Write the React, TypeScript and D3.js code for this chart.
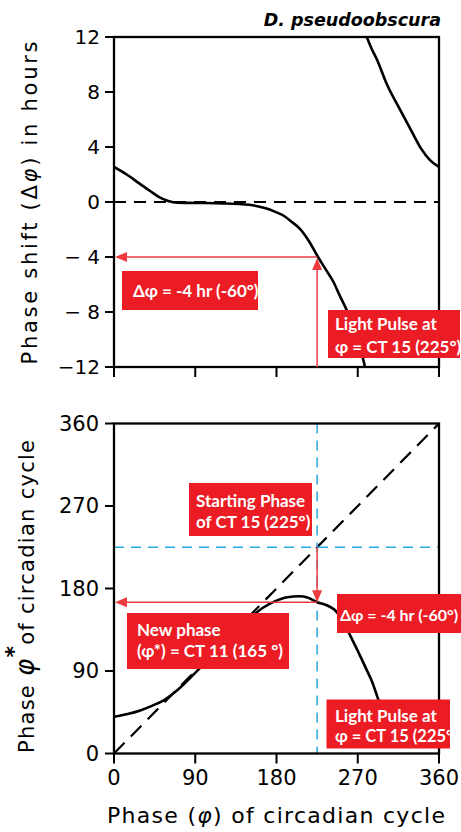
import * as d3 from "d3";

// x axis of both panels: phase of the circadian cycle (degrees)
const phaseTicks = [0, 90, 180, 270, 360];
const phaseTickLabels = ["0", "90", "180", "270", "360"];

// top panel: phase shift in hours
const shiftTicks = [12, 8, 4, 0, -4, -8, -12];
const shiftTickLabels = ["12", "8", "4", "0", "\u2212 4", "\u2212 8", "\u221212"];

// bottom panel: new phase (degrees)
const newPhaseTicks = [0, 90, 180, 270, 360];
const newPhaseTickLabels = ["0", "90", "180", "270", "360"];

// phase response curve, delay branch
const prcPhaseA = [0, 14, 28, 40, 50, 60, 70, 90, 120, 150, 160, 169, 178, 188, 197, 206, 216, 226, 234, 243, 250, 258, 264, 269, 274, 278];
const prcShiftA = [2.55, 2.0, 1.35, 0.8, 0.36, 0.08, -0.05, -0.07, -0.1, -0.2, -0.32, -0.48, -0.7, -1.0, -1.45, -1.95, -2.85, -4.0, -4.85, -5.8, -6.8, -7.9, -8.9, -9.8, -10.9, -12];

// phase response curve, advance branch
const prcPhaseB = [280, 285, 291, 302, 317, 330, 340, 350, 360];
const prcShiftB = [12, 11.2, 10.4, 8.6, 6.7, 5.1, 3.9, 3.05, 2.55];

// phase transition curve
const ptcPhase = [0, 15, 29, 42, 55, 70, 90, 110, 130, 150, 165, 178, 192, 205, 215, 225, 235, 244, 253, 262, 270, 280, 286, 292, 298, 305];
const ptcNewPhase = [40, 43, 47, 52, 58, 69, 88, 108, 128, 147, 159, 166, 170.5, 171.5, 170, 165, 162, 157, 146, 128, 112, 91, 78, 61, 44, 25];

const pulsePhase = 225;
const pulseShift = -4;
const resultPhase = 165;

const RED = "#ec1c24";
const ARROW = "#ee3b3f";
const BLUE = "#29abe2";

export default function App() {
  const x = d3.scaleLinear().domain([0, 360]).range([114, 439]);
  const yS = d3.scaleLinear().domain([-12, 12]).range([367, 37]);
  const yP = d3.scaleLinear().domain([0, 360]).range([753.5, 423.5]);

  const lineA = d3
    .line<number>()
    .x((_, i) => x(prcPhaseA[i]))
    .y((d) => yS(d))
    .curve(d3.curveMonotoneX)(prcShiftA);
  const lineB = d3
    .line<number>()
    .x((_, i) => x(prcPhaseB[i]))
    .y((d) => yS(d))
    .curve(d3.curveMonotoneX)(prcShiftB);
  const linePtc = d3
    .line<number>()
    .x((_, i) => x(ptcPhase[i]))
    .y((d) => yP(d))
    .curve(d3.curveMonotoneX)(ptcNewPhase);

  const font = "'DejaVu Sans', sans-serif";
  const boxFont = "Lato, 'Open Sans', sans-serif";

  const px = x(pulsePhase);
  const py = yS(pulseShift);
  const startY = yP(pulsePhase);
  const endY = yP(resultPhase);

  const leftHead = (tx: number, ty: number) =>
    `${tx},${ty} ${tx + 12},${ty - 5} ${tx + 12},${ty + 5}`;
  const upHead = (tx: number, ty: number) =>
    `${tx},${ty} ${tx - 5},${ty + 12} ${tx + 5},${ty + 12}`;
  const downHead = (tx: number, ty: number) =>
    `${tx},${ty} ${tx - 5},${ty - 12} ${tx + 5},${ty - 12}`;

  const boxText = (lx: number, ly: number, s: string, size = 17) => (
    <text x={lx} y={ly} fill="#fff" fontFamily={boxFont} fontWeight={700} fontSize={size} dominantBaseline="central">
      {s}
    </text>
  );

  return (
    <svg width={461} height={832} style={{ position: "absolute", left: 0, top: 0, background: "#fff" }}>
      <defs>
        <clipPath id="topClip">
          <rect x={x(0)} y={yS(12)} width={x(360) - x(0)} height={yS(-12) - yS(12)} />
        </clipPath>
        <clipPath id="botClip">
          <rect x={x(0)} y={yP(360)} width={x(360) - x(0)} height={yP(0) - yP(360)} />
        </clipPath>
      </defs>

      {/* title */}
      <text x={441} y={26} textAnchor="end" fontFamily={font} fontWeight={700} fontStyle="italic" fontSize={17.5}>
        D. pseudoobscura
      </text>

      {/* ---------- top panel ---------- */}
      <line x1={x(0)} x2={x(360)} y1={yS(0)} y2={yS(0)} stroke="#000" strokeWidth={2.2} strokeDasharray="12,8" />
      <g clipPath="url(#topClip)">
        <path d={lineA ?? ""} fill="none" stroke="#000" strokeWidth={2.6} />
        <path d={lineB ?? ""} fill="none" stroke="#000" strokeWidth={2.6} />
      </g>
      <rect x={x(0)} y={yS(12)} width={x(360) - x(0)} height={yS(-12) - yS(12)} fill="none" stroke="#000" strokeWidth={2.3} />
      {shiftTicks.map((t, i) => (
        <g key={"st" + t}>
          <line x1={x(0) - 9} x2={x(0)} y1={yS(t)} y2={yS(t)} stroke="#000" strokeWidth={2} />
          <text x={100} y={yS(t)} textAnchor="end" dominantBaseline="central" fontFamily={font} fontSize={20}>
            {shiftTickLabels[i]}
          </text>
        </g>
      ))}
      {phaseTicks.map((t) => (
        <line key={"tt" + t} x1={x(t)} x2={x(t)} y1={yS(-12)} y2={yS(-12) + 10} stroke="#000" strokeWidth={2} />
      ))}
      <text
        transform={`translate(37,${(yS(12) + yS(-12)) / 2 + 1}) rotate(-90)`}
        textAnchor="middle"
        fontFamily={font}
        fontSize={21}
        textLength={323}
        lengthAdjust="spacing"
      >
        Phase shift  (Δ<tspan fontStyle="italic">φ</tspan>) in hours
      </text>

      {/* red arrows, top */}
      <line x1={px} x2={x(0) + 4} y1={py} y2={py} stroke={ARROW} strokeWidth={1.5} />
      <polygon points={leftHead(x(0) + 1, py)} fill={ARROW} />
      <line x1={px} x2={px} y1={yS(-12)} y2={py + 4} stroke={ARROW} strokeWidth={1.5} />
      <polygon points={upHead(px, py + 1)} fill={ARROW} />

      <rect x={122} y={271} width={136} height={39} fill={RED} />
      {boxText(133, 290.5, "Δφ = -4 hr (-60°)")}
      <rect x={328} y={310} width={132} height={48} fill={RED} />
      {boxText(335, 323, "Light Pulse at")}
      {boxText(335, 346, "φ = CT 15 (225°)")}

      {/* ---------- bottom panel ---------- */}
      <line x1={x(0)} x2={x(360)} y1={yP(0)} y2={yP(360)} stroke="#000" strokeWidth={2.2} strokeDasharray="15,9" />
      <line x1={px} x2={px} y1={yP(360)} y2={yP(0)} stroke={BLUE} strokeWidth={1.5} strokeDasharray="10,7" />
      <line x1={x(0)} x2={x(360)} y1={startY} y2={startY} stroke={BLUE} strokeWidth={1.5} strokeDasharray="10,7" />
      <g clipPath="url(#botClip)">
        <path d={linePtc ?? ""} fill="none" stroke="#000" strokeWidth={2.6} />
      </g>
      <rect x={x(0)} y={yP(360)} width={x(360) - x(0)} height={yP(0) - yP(360)} fill="none" stroke="#000" strokeWidth={2.3} />
      {newPhaseTicks.map((t, i) => (
        <g key={"pt" + t}>
          <line x1={x(0) - 9} x2={x(0)} y1={yP(t)} y2={yP(t)} stroke="#000" strokeWidth={2} />
          <text x={99} y={yP(t)} textAnchor="end" dominantBaseline="central" fontFamily={font} fontSize={21}>
            {newPhaseTickLabels[i]}
          </text>
        </g>
      ))}
      {phaseTicks.map((t, i) => (
        <g key={"bt" + t}>
          <line x1={x(t)} x2={x(t)} y1={yP(0)} y2={yP(0) + 10} stroke="#000" strokeWidth={2} />
          <text x={x(t)} y={785} textAnchor="middle" fontFamily={font} fontSize={21}>
            {phaseTickLabels[i]}
          </text>
        </g>
      ))}
      <text
        transform={`translate(34,${(yP(360) + yP(0)) / 2 + 8}) rotate(-90)`}
        textAnchor="middle"
        fontFamily={font}
        fontSize={21}
        textLength={313}
        lengthAdjust="spacing"
      >
        Phase <tspan fontStyle="italic" fontSize={26}>φ</tspan>
        <tspan dy={-13} fontSize={22} fontWeight={700}>*</tspan>
        <tspan dy={13}>of circadian cycle</tspan>
      </text>
      <text x={276} y={823} textAnchor="middle" fontFamily={font} fontSize={22} textLength={338} lengthAdjust="spacing">
        Phase  (<tspan fontStyle="italic">φ</tspan>) of circadian cycle
      </text>

      {/* red arrows, bottom */}
      <line x1={px} x2={px} y1={startY} y2={endY - 4} stroke={ARROW} strokeWidth={1.5} />
      <polygon points={downHead(px, endY)} fill={ARROW} />
      <line x1={px} x2={x(0) + 4} y1={endY} y2={endY} stroke={ARROW} strokeWidth={1.5} />
      <polygon points={leftHead(x(0) + 1, endY)} fill={ARROW} />

      <rect x={189} y={483} width={123} height={53} fill={RED} />
      {boxText(196, 500.5, "Starting Phase")}
      {boxText(196, 521.5, "of CT 15 (225°)")}
      <rect x={337} y={594} width={124} height={39} fill={RED} />
      {boxText(340, 614, "Δφ = -4 hr (-60°)", 16)}
      <rect x={127} y={613} width={162} height={56} fill={RED} />
      {boxText(137, 629, "New phase")}
      {boxText(137, 650.5, "(φ*) = CT 11 (165 °)")}
      <rect x={326.5} y={699.5} width={123.5} height={49} fill={RED} />
      {boxText(335, 715, "Light Pulse at")}
      {boxText(335, 735.5, "φ = CT 15 (225°", 16.5)}
    </svg>
  );
}
